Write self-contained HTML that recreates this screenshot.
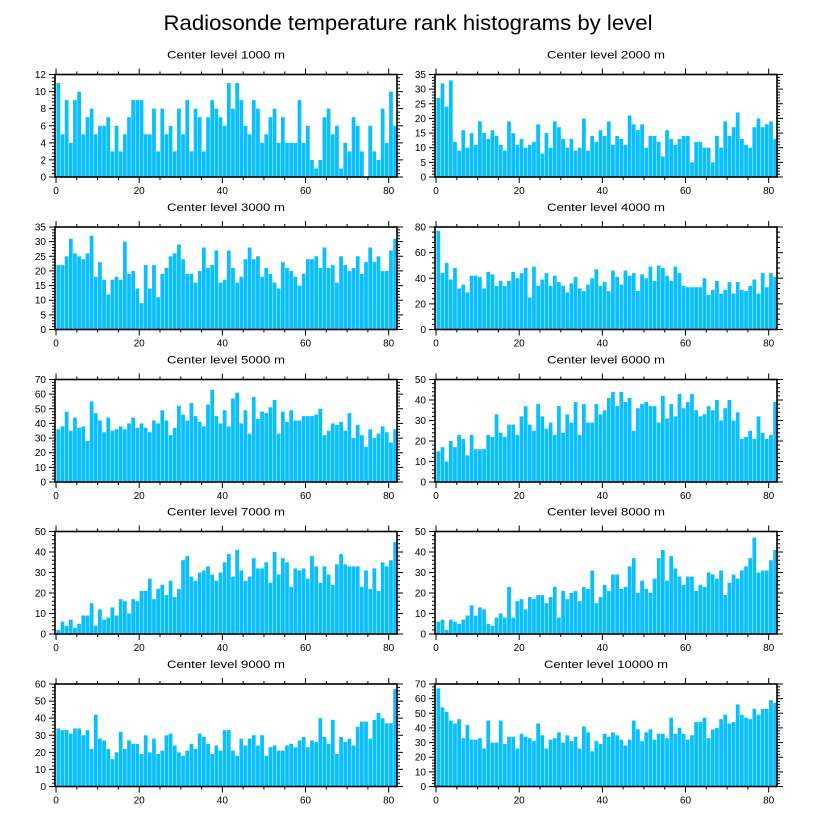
<!DOCTYPE html>
<html><head><meta charset="utf-8">
<style>
html,body{margin:0;padding:0;background:#fff;}
svg{display:block;font-family:"Liberation Sans",Arial,sans-serif;}
</style></head>
<body>
<svg id="chart" width="816" height="824" viewBox="0 0 816 824">
<text x="408" y="30" font-size="21" text-anchor="middle" textLength="489" lengthAdjust="spacingAndGlyphs">Radiosonde temperature rank histograms by level</text>
</svg>
<script>
const levels = ["1000","2000","3000","4000","5000","6000","7000","8000","9000","10000"];
const yMax = [12,35,35,80,70,50,50,50,60,70];
const yStep = [2,5,5,20,10,10,10,10,10,10];
const xTicks = [0,20,40,60,80];
const v1000 = [11,5,9,4,9,10,5,7,8,5,6,6,7,3,6,3,5,7,9,9,9,5,5,8,3,8,5,6,3,8,5,9,3,8,7,3,7,9,8,7,6,11,8,11,9,6,5,9,8,4,5,7,8,4,7,4,4,4,9,4,6,2,1,2,7,8,5,6,1,4,3,7,6,3,0,6,3,2,8,4,10,6];
const v2000 = [27,32,24,33,12,9,16,10,15,11,19,15,13,16,14,11,9,19,15,11,13,10,11,12,18,8,15,10,19,17,13,10,13,9,10,20,9,14,12,16,14,19,11,14,13,11,21,18,16,18,10,14,14,12,7,16,13,11,13,14,14,5,12,12,10,10,5,14,10,19,14,17,22,13,11,10,17,20,17,18,19,13];
const v3000 = [22,22,25,31,26,25,24,26,32,18,23,17,12,17,18,17,30,19,20,14,9,22,14,22,11,19,21,25,26,29,24,19,19,16,20,28,21,22,27,16,17,27,21,16,18,24,28,24,25,18,21,19,16,14,23,21,20,18,15,19,24,24,25,21,28,21,22,16,25,22,20,21,25,19,23,28,23,25,20,20,27,31];
const v4000 = [77,44,52,39,48,32,35,29,42,42,41,32,45,43,34,38,34,38,45,40,44,48,25,49,34,39,44,34,42,37,34,29,36,41,32,30,35,40,47,34,37,30,46,41,35,46,42,44,30,43,40,49,38,50,48,42,38,49,44,34,33,33,33,33,40,27,31,38,28,31,37,28,37,31,30,34,39,28,44,33,44,41];
const v5000 = [36,38,48,35,44,37,38,28,55,47,42,34,44,35,36,38,36,40,44,37,40,37,34,42,40,49,42,32,37,52,46,42,54,45,41,38,53,63,45,40,49,38,57,61,40,49,33,58,43,48,47,51,56,33,48,41,49,42,42,45,45,45,46,50,32,35,40,39,41,35,47,30,39,32,24,36,30,33,38,34,27,36];
const v6000 = [15,17,10,20,17,23,21,13,23,16,16,16,23,22,33,24,22,28,28,23,32,37,28,25,38,32,26,29,23,37,24,33,29,39,23,38,29,29,38,33,35,41,44,37,44,39,41,25,36,38,39,37,37,29,42,31,38,32,43,36,39,43,35,32,33,37,35,40,30,36,40,30,34,21,22,25,21,32,24,21,23,39];
const v7000 = [2,6,4,7,3,5,9,9,15,4,12,7,8,13,9,17,16,10,17,16,21,21,27,17,22,24,19,26,18,22,36,38,28,26,30,31,33,29,26,30,35,39,28,41,31,26,28,37,32,32,35,25,40,29,37,35,23,32,31,32,27,38,33,25,33,29,24,34,39,34,33,33,33,23,31,22,32,21,35,33,36,45];
const v8000 = [6,7,2,7,6,5,7,9,14,9,13,12,5,4,8,10,8,23,8,16,17,12,18,17,19,19,15,18,23,8,21,17,20,21,16,23,22,31,15,18,24,21,29,29,22,23,33,37,20,26,22,20,27,37,41,26,38,32,28,24,28,28,21,24,23,30,29,27,31,19,25,29,27,31,33,37,47,30,31,31,36,41];
const v9000 = [34,33,33,31,34,34,30,33,22,42,28,27,22,16,20,32,22,27,25,25,19,30,20,28,19,21,30,31,24,20,18,21,25,22,31,29,25,19,24,21,33,33,21,18,28,24,28,30,24,30,18,23,24,21,21,24,25,23,27,29,23,27,26,40,29,25,39,19,29,26,28,24,35,38,38,28,39,43,40,37,37,57];
const v10000 = [67,54,51,45,43,46,33,42,32,32,33,26,45,30,30,45,29,34,34,26,36,34,33,31,43,35,26,32,33,37,30,35,31,34,26,41,37,24,31,29,36,34,37,35,32,28,32,45,39,31,37,39,32,36,36,33,47,36,40,36,32,35,44,44,47,33,39,40,46,49,43,44,56,49,47,46,53,49,53,53,59,57];
const series = [v1000,v2000,v3000,v4000,v5000,v6000,v7000,v8000,v9000,v10000];

const NS = "http://www.w3.org/2000/svg";
const svg = document.getElementById("chart");
function mk(tag, attrs, parent){
  const e = document.createElementNS(NS, tag);
  for (const k in attrs) e.setAttribute(k, attrs[k]);
  parent.appendChild(e);
  return e;
}
const X0 = -0.25, X1 = 82;
const colL = [55, 435], colW = 342;
const rowT = [74.5, 227, 379.5, 531.5, 684], rowH = 102.5;

series.forEach((vals, p) => {
  const col = p % 2, row = Math.floor(p / 2);
  const L = colL[col], T = rowT[row], W = colW, H = rowH, B = T + H, R = L + W;
  const xs = v => L + (v - X0) / (X1 - X0) * W;
  const ys = v => B - v / yMax[p] * H;
  const g = mk("g", {}, svg);
  
  
  const tw = levels[p].length === 5 ? 124 : 118;
  const t = mk("text", {x: L + W / 2, y: T - 16, "font-size": 11, "text-anchor": "middle", textLength: tw, lengthAdjust: "spacingAndGlyphs"}, g);
  
  
  t.textContent = "Center level " + levels[p] + " m";
  vals.forEach((v, i) => {
    const x0 = xs(i + 0.1), x1 = xs(i + 1.0);
    const r = mk("rect", {x: x0, y: ys(v), width: x1 - x0, height: B - ys(v), fill: "#0abfff"}, g);
    
    
  });
  let d = "";
  for (let v = 0; v <= 81; v += 5) {
    const x = xs(v), len = (v % 20 === 0) ? 6 : 3;
    d += `M${x},${B}v${len}M${x},${T}v${-len}`;
  }
  const minorStep = yStep[p] / 5;
  for (let k = 0; k * minorStep <= yMax[p] + 1e-9; k++) {
    const v = k * minorStep, y = ys(v);
    const major = k % 5 === 0, len = major ? 6 : 3;
    d += `M${L},${y}h${-len}M${R},${y}h${len}`;
  }
  const tk = mk("path", {d: d, stroke: "#000", "stroke-width": 1, fill: "none"}, g);
  
  
  const fr = mk("rect", {x: L, y: T, width: W, height: H, fill: "none", stroke: "#000", "stroke-width": 1.6}, g);
  
  
  for (let v = 0; v <= yMax[p] + 1e-9; v += yStep[p]) {
    const tl = mk("text", {x: L - 9, y: ys(v) + 3.5, "font-size": 10, "text-anchor": "end"}, g);
    
    
    tl.textContent = v;
  }
  xTicks.forEach(v => {
    const tl = mk("text", {x: xs(v), y: B + 17, "font-size": 10, "text-anchor": "middle"}, g);
    
    
    tl.textContent = v;
  });
});
</script>
</body></html>
